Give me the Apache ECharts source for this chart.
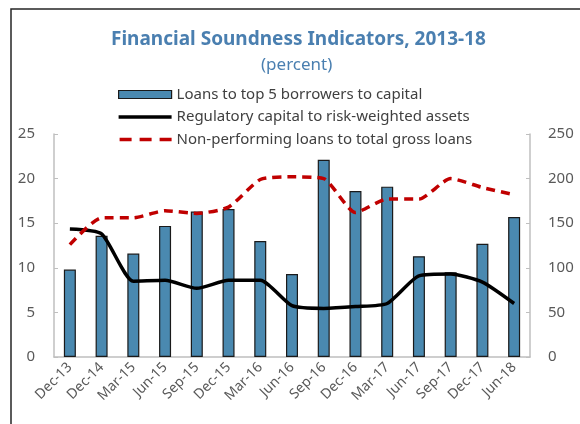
<!DOCTYPE html>
<html>
<head>
<meta charset="utf-8">
<script src="https://cdn.jsdelivr.net/npm/echarts@6/dist/echarts.min.js"></script>
<style>
  html, body { margin: 0; padding: 0; background: #fff; }
  #chart { width: 580px; height: 424px; }
</style>
</head>
<body>
<div id="chart"></div>
<script>
const categories = ['Dec-13', 'Dec-14', 'Mar-15', 'Jun-15', 'Sep-15', 'Dec-15', 'Mar-16', 'Jun-16',
    'Sep-16', 'Dec-16', 'Mar-17', 'Jun-17', 'Sep-17', 'Dec-17', 'Jun-18'];
// right axis
const loansTop5 = [98, 136, 116, 147, 163, 166, 130, 93, 221, 186, 191, 113, 95, 127, 157];
// left axis
const regCapital = [14.35, 13.8, 8.5, 8.6, 7.7, 8.6, 8.6, 5.75, 5.45, 5.65, 6.0, 9.1, 9.3, 8.4, 6.0];
const nplRatio = [12.6, 15.6, 15.6, 16.4, 16.1, 16.8, 19.9, 20.2, 20.0, 16.2, 17.7, 17.7, 20.0, 19.0, 18.2];

const leftTicks = { min: 0, max: 25, interval: 5 };
const rightTicks = { min: 0, max: 250, interval: 50 };

const chart = echarts.init(document.getElementById('chart'));
const font = 'Noto Sans';
const gray = '#595959';
const axisGray = '#bfbfbf';
const blueTitle = '#4a7fb0';

// legend icons (8px tall box, line drawn in the middle)
const solidIcon = 'path://M0,0L0,0M0,8L0,8M0,2.2h53v3.6h-53z';
const dashIcon = 'path://M0,0L0,0M0,8L0,8M1,2.2h12v3.6h-12zM21,2.2h12v3.6h-12zM41,2.2h12v3.6h-12z';

const option = {
    animation: false,
    textStyle: { fontFamily: font },
    title: [{
        text: 'Financial Soundness Indicators, 2013-18',
        left: 106,
        top: 25,
        textStyle: { fontFamily: font, fontSize: 19, fontWeight: 'bold', color: blueTitle }
    }, {
        text: '(percent)',
        left: 256,
        top: 52,
        textStyle: { fontFamily: font, fontSize: 17, fontWeight: 'normal', color: blueTitle }
    }],
    legend: {
        orient: 'vertical',
        left: 113,
        top: 82,
        itemWidth: 53,
        itemHeight: 8,
        itemGap: 7.5,
        textStyle: { fontFamily: font, fontSize: 15, color: '#404040' },
        data: [
            { name: 'Loans to top 5 borrowers to capital', icon: 'rect',
              itemStyle: { color: '#4a89b0', borderColor: '#1a1a1a', borderWidth: 1.2 } },
            { name: 'Regulatory capital to risk-weighted assets', icon: solidIcon,
              itemStyle: { color: '#000', borderWidth: 0 } },
            { name: 'Non-performing loans to total gross loans', icon: dashIcon,
              itemStyle: { color: '#c00000', borderWidth: 0 } }
        ]
    },
    graphic: [{
        type: 'rect',
        shape: { x: 11, y: 9, width: 600, height: 440 },
        style: { fill: 'none', stroke: '#262626', lineWidth: 1.5 },
        silent: true
    }],
    grid: { left: 54, right: 50, top: 134, bottom: 67 },
    xAxis: {
        type: 'category',
        data: categories,
        boundaryGap: true,
        axisLine: { lineStyle: { color: axisGray, width: 1.5 } },
        axisTick: { inside: true, length: 4, lineStyle: { color: axisGray } },
        axisLabel: { rotate: 45, color: gray, fontSize: 14, margin: 8, interval: 0 }
    },
    yAxis: [{
        type: 'value',
        ...leftTicks,
        splitLine: { show: false },
        axisLine: { show: true, lineStyle: { color: axisGray, width: 1.5 } },
        axisTick: { show: true, inside: true, length: 4, lineStyle: { color: axisGray } },
        axisLabel: { color: gray, fontSize: 15, margin: 19 }
    }, {
        type: 'value',
        ...rightTicks,
        splitLine: { show: false },
        axisLine: { show: true, lineStyle: { color: axisGray, width: 1.5 } },
        axisTick: { show: true, inside: true, length: 4, lineStyle: { color: axisGray } },
        axisLabel: { color: gray, fontSize: 15, margin: 18 }
    }],
    series: [{
        name: 'Loans to top 5 borrowers to capital',
        type: 'bar',
        yAxisIndex: 1,
        barWidth: 12,
        data: loansTop5,
        itemStyle: { color: '#4a89b0', borderColor: '#1a1a1a', borderWidth: 1.2 }
    }, {
        name: 'Regulatory capital to risk-weighted assets',
        type: 'line',
        yAxisIndex: 0,
        data: regCapital,
        symbol: 'none',
        smooth: 0.2,
        lineStyle: { color: '#000', width: 3.5 },
        itemStyle: { color: '#000' }
    }, {
        name: 'Non-performing loans to total gross loans',
        type: 'line',
        yAxisIndex: 0,
        data: nplRatio,
        symbol: 'none',
        smooth: 0.2,
        lineStyle: { color: '#c00000', width: 3.5, type: [9, 6] },
        itemStyle: { color: '#c00000' }
    }]
};
chart.setOption(option);
</script>
</body>
</html>
